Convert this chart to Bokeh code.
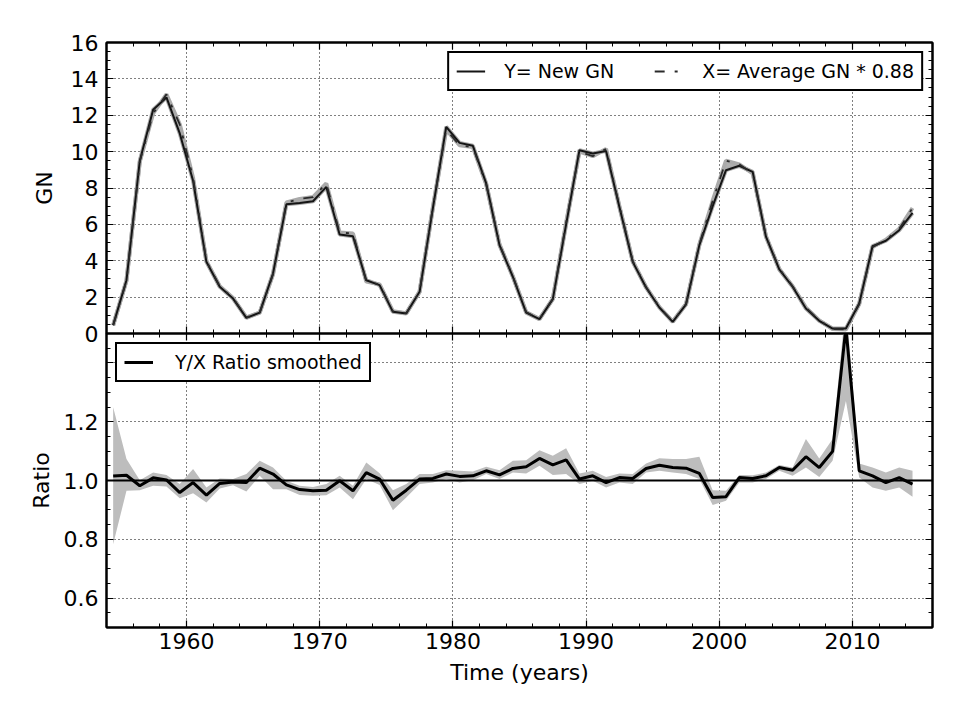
import numpy as np
from bokeh.plotting import figure
from bokeh.models import (Range1d, LinearAxis, SingleIntervalTicker, FixedTicker, Span,
                          Legend, LegendItem, CustomJSTickFormatter)
from bokeh.layouts import column
from bokeh.embed import file_html
from bokeh.resources import INLINE

FONT = "DejaVu Sans"

# ---------------- data ----------------
years = [1954.5, 1955.5, 1956.5, 1957.5, 1958.5, 1959.5, 1960.5, 1961.5, 1962.5, 1963.5,
         1964.5, 1965.5, 1966.5, 1967.5, 1968.5, 1969.5, 1970.5, 1971.5, 1972.5, 1973.5,
         1974.5, 1975.5, 1976.5, 1977.5, 1978.5, 1979.5, 1980.5, 1981.5, 1982.5, 1983.5,
         1984.5, 1985.5, 1986.5, 1987.5, 1988.5, 1989.5, 1990.5, 1991.5, 1992.5, 1993.5,
         1994.5, 1995.5, 1996.5, 1997.5, 1998.5, 1999.5, 2000.5, 2001.5, 2002.5, 2003.5,
         2004.5, 2005.5, 2006.5, 2007.5, 2008.5, 2009.5, 2010.5, 2011.5, 2012.5, 2013.5,
         2014.5]

gn_new = [0.46, 2.93, 9.5, 12.3, 12.98, 11.0, 8.4, 3.94, 2.57, 1.92,
          0.86, 1.15, 3.3, 7.1, 7.18, 7.27, 8.06, 5.44, 5.35, 2.93,
          2.66, 1.19, 1.10, 2.29, 6.9, 11.36, 10.48, 10.32, 8.25, 4.86,
          3.12, 1.15, 0.79, 1.89, 6.0, 10.08, 9.9, 10.04, 6.96, 3.94,
          2.53, 1.43, 0.64, 1.6, 4.86, 7.0, 8.98, 9.22, 8.89, 5.32,
          3.52, 2.57, 1.37, 0.70, 0.27, 0.27, 1.65, 4.8, 5.1, 5.68,
          6.63]

gn_avg = [0.45, 2.9, 9.45, 12.1, 13.15, 11.5, 8.55, 3.98, 2.6, 1.95,
          0.88, 1.15, 3.25, 7.2, 7.4, 7.5, 8.25, 5.55, 5.5, 2.85,
          2.7, 1.22, 1.12, 2.3, 6.95, 11.2, 10.35, 10.25, 8.2, 4.9,
          3.15, 1.18, 0.8, 1.9, 6.1, 10.0, 9.75, 10.15, 7.0, 3.98,
          2.55, 1.45, 0.66, 1.62, 4.9, 7.3, 9.5, 9.3, 8.8, 5.35,
          3.55, 2.6, 1.42, 0.72, 0.25, 0.22, 1.62, 4.75, 5.15, 5.75,
          6.9]

ratio = [1.015, 1.018, 0.982, 1.009, 1.002, 0.959, 0.993, 0.950, 0.990, 0.995,
         0.993, 1.042, 1.022, 0.985, 0.969, 0.965, 0.967, 0.999, 0.965, 1.027,
         1.005, 0.933, 0.967, 1.005, 1.007, 1.022, 1.014, 1.016, 1.033, 1.019,
         1.041, 1.047, 1.075, 1.053, 1.070, 1.005, 1.016, 0.993, 1.010, 1.007,
         1.041, 1.052, 1.044, 1.042, 1.024, 0.942, 0.945, 1.010, 1.007, 1.016,
         1.044, 1.035, 1.081, 1.044, 1.099, 1.52, 1.033, 1.016, 0.993, 1.010,
         0.988]

ratio_up = [1.249, 1.073, 1.001, 1.027, 1.019, 0.988, 1.039, 0.976, 1.007, 1.005,
            1.022, 1.067, 1.044, 0.999, 0.982, 0.978, 0.988, 1.016, 0.982, 1.061,
            1.025, 0.967, 0.988, 1.022, 1.022, 1.035, 1.033, 1.031, 1.047, 1.035,
            1.067, 1.069, 1.103, 1.084, 1.110, 1.024, 1.033, 1.012, 1.024, 1.022,
            1.058, 1.076, 1.073, 1.073, 1.081, 0.967, 0.965, 1.019, 1.018, 1.027,
            1.053, 1.044, 1.141, 1.075, 1.141, 1.60, 1.058, 1.044, 1.027, 1.044,
            1.033]

ratio_lo = [0.783, 0.965, 0.967, 0.982, 0.980, 0.940, 0.957, 0.925, 0.973, 0.984,
            0.963, 1.016, 0.970, 0.970, 0.951, 0.948, 0.950, 0.976, 0.936, 1.005,
            0.985, 0.899, 0.942, 0.988, 0.993, 1.005, 0.993, 1.001, 1.022, 1.005,
            1.027, 1.024, 1.050, 1.019, 1.022, 0.988, 0.999, 0.976, 0.993, 0.988,
            1.027, 1.033, 1.027, 1.022, 1.005, 0.917, 0.931, 0.993, 0.993, 1.005,
            1.033, 1.016, 1.044, 1.012, 1.067, 1.27, 1.010, 0.976, 0.965, 0.976,
            0.945]

x_start, x_end = 1954, 2016
gn_start, gn_end = 0, 16
ratio_start, ratio_end = 0.5, 1.5
ratio_ticks = [0.6, 0.8, 1.0, 1.2, 1.4]
ratio_minor = [0.5, 0.55, 0.6, 0.65, 0.7, 0.75, 0.8, 0.85, 0.9, 0.95, 1.0, 1.05, 1.1,
               1.15, 1.2, 1.25, 1.3, 1.35, 1.4, 1.45, 1.5]
ratio_ref = 1.0

band_lo = np.minimum(gn_new, gn_avg)
band_hi = np.maximum(gn_new, gn_avg)

# ---------------- helpers ----------------
def style_axis(ax, ticker, labels=True, standoff=8):
    ax.ticker = ticker
    ax.major_tick_in = 7
    ax.major_tick_out = 0
    ax.minor_tick_in = 4
    ax.minor_tick_out = 0
    ax.axis_line_color = "black"
    ax.axis_line_width = 2
    ax.major_tick_line_color = "black"
    ax.major_tick_line_width = 1.2
    ax.minor_tick_line_color = "black"
    ax.minor_tick_line_width = 1.0
    if labels:
        ax.major_label_text_font = FONT
        ax.major_label_text_font_size = "22px"
        ax.major_label_text_color = "black"
        ax.major_label_standoff = standoff
        ax.axis_label_text_font = FONT
        ax.axis_label_text_font_size = "22px"
        ax.axis_label_text_font_style = "normal"
        ax.axis_label_text_color = "black"
    else:
        ax.major_label_text_font_size = "0px"
        ax.major_label_text_color = None
        ax.major_label_standoff = 0
        ax.axis_label = None


def style_grid(g, ticker):
    g.ticker = ticker
    g.grid_line_color = "black"
    g.grid_line_alpha = 1.0
    g.grid_line_width = 1.1
    g.grid_line_dash = "1 3"


def style_legend(lg, padding, spacing, standoff):
    lg.label_text_font = FONT
    lg.label_text_font_size = "19px"
    lg.label_text_color = "black"
    lg.border_line_color = "black"
    lg.border_line_alpha = 1.0
    lg.border_line_width = 2
    lg.background_fill_color = "white"
    lg.background_fill_alpha = 1
    lg.glyph_width = 29
    lg.glyph_height = 20
    lg.label_height = 20
    lg.padding = padding
    lg.spacing = spacing
    lg.label_standoff = standoff
    lg.margin = 9


x_range = Range1d(x_start, x_end)
xticker = SingleIntervalTicker(interval=10, num_minor_ticks=5)

# ---------------- top panel ----------------
top = figure(frame_width=826, frame_height=291, x_range=x_range,
             y_range=Range1d(gn_start, gn_end), output_backend="svg",
             toolbar_location=None, min_border_left=106, min_border_right=9,
             min_border_top=42, min_border_bottom=12)
top.outline_line_color = "black"
top.outline_line_width = 2
top.background_fill_color = "white"

gn_ticker = SingleIntervalTicker(interval=2, num_minor_ticks=4)
style_axis(top.xaxis[0], xticker, labels=False)
style_axis(top.yaxis[0], gn_ticker, labels=True, standoff=8)
top.yaxis[0].axis_label = "GN"
top.yaxis[0].axis_label_standoff = 11
ax_t = LinearAxis()
style_axis(ax_t, xticker, labels=False)
top.add_layout(ax_t, "above")
ax_r = LinearAxis()
style_axis(ax_r, gn_ticker, labels=False)
top.add_layout(ax_r, "right")
style_grid(top.xgrid[0], xticker)
style_grid(top.ygrid[0], gn_ticker)

top.varea(x=years, y1=band_lo, y2=band_hi, fill_color="#b0b0b0", fill_alpha=1)
top.line(years, gn_avg, color="#aaaaaa", line_width=4)
top.line(years, gn_new, color="#aaaaaa", line_width=4)
r_y = top.line(years, gn_new, color="#151515", line_width=2)
r_x = top.line(years, gn_avg, color="#2a2a2a", line_width=1.8, line_dash="10 10 3 10")

lg_top = Legend(items=[LegendItem(label="Y= New GN", renderers=[r_y]),
                       LegendItem(label="X= Average GN * 0.88", renderers=[r_x])],
                orientation="horizontal", location="top_right")
style_legend(lg_top, padding=7, spacing=40, standoff=19)
top.add_layout(lg_top)

# ---------------- bottom panel ----------------
bot = figure(frame_width=826, frame_height=294, x_range=x_range,
             y_range=Range1d(ratio_start, ratio_end), output_backend="svg",
             toolbar_location=None, min_border_left=106, min_border_right=9,
             min_border_top=0, min_border_bottom=70, margin=(-12, 0, 0, 0))
bot.border_fill_alpha = 0
bot.outline_line_color = "black"
bot.outline_line_width = 2
bot.background_fill_color = "white"

r_ticker = FixedTicker(ticks=ratio_ticks, minor_ticks=ratio_minor)
style_axis(bot.xaxis[0], xticker, labels=True, standoff=5)
bot.xaxis[0].axis_label = "Time (years)"
bot.xaxis[0].axis_label_standoff = 8
style_axis(bot.yaxis[0], r_ticker, labels=True, standoff=8)
bot.yaxis[0].formatter = CustomJSTickFormatter(
    code="return tick > 1.3 ? '' : tick.toFixed(1);")
bot.yaxis[0].axis_label = "Ratio"
bot.yaxis[0].axis_label_standoff = 7
ax_t2 = LinearAxis()
style_axis(ax_t2, xticker, labels=False)
bot.add_layout(ax_t2, "above")
ax_r2 = LinearAxis()
style_axis(ax_r2, r_ticker, labels=False)
bot.add_layout(ax_r2, "right")
style_grid(bot.xgrid[0], xticker)
style_grid(bot.ygrid[0], r_ticker)

bot.varea(x=years, y1=ratio_lo, y2=ratio_up, fill_color="#bdbdbd", fill_alpha=1)
bot.add_layout(Span(location=ratio_ref, dimension="width", line_color="black",
                    line_width=2))
r_ratio = bot.line(years, ratio, color="black", line_width=3)

lg_bot = Legend(items=[LegendItem(label="Y/X Ratio smoothed", renderers=[r_ratio])],
                location="top_left")
style_legend(lg_bot, padding=7, spacing=10, standoff=22)
bot.add_layout(lg_bot)

layout = column(top, bot, spacing=0)

with open("out.html", "w") as f:
    f.write(file_html(layout, INLINE))
